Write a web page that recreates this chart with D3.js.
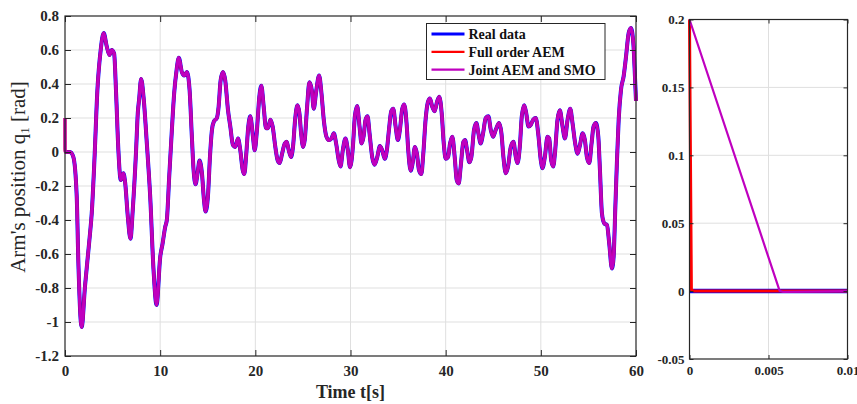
<!DOCTYPE html>
<html>
<head>
<meta charset="utf-8">
<script src="https://cdn.jsdelivr.net/npm/d3@7"></script>
<style>
  body { margin: 0; background: #fff; }
  text { font-family: "Liberation Serif", "Times New Roman", serif; }
</style>
</head>
<body>
<svg id="chart"></svg>
<script>
// time axis of the main plot (s)
var timeS = [0, 0.53, 0.88, 1.23, 1.4, 1.75, 2.1, 2.56, 2.81, 3.09, 3.4, 3.75, 4.07, 4.39, 4.67, 4.91, 5.16, 5.37, 5.61, 5.86,
  6.14, 6.32, 6.6, 6.88, 7.12, 7.47, 7.65, 7.79, 8.0, 8.25, 8.6, 8.95, 9.3, 9.62, 10.0, 10.25, 10.53, 10.7, 10.95, 11.23,
  11.47, 11.72, 11.96, 12.28, 12.53, 12.81, 13.09, 13.33, 13.51, 13.72, 13.93, 14.14, 14.39, 14.6, 14.77, 15.02, 15.23, 15.44, 15.65, 15.96,
  16.14, 16.35, 16.6, 16.84, 17.12, 17.37, 17.65, 17.89, 18.18, 18.42, 18.67, 18.84, 19.05, 19.26, 19.47, 19.75, 19.93, 20.17, 20.42, 20.63,
  20.88, 21.12, 21.33, 21.58, 21.82, 22.1, 22.35, 22.56, 22.81, 23.09, 23.3, 23.51, 23.75, 23.96, 24.18, 24.42, 24.63, 24.81, 25.02, 25.19,
  25.44, 25.68, 25.93, 26.14, 26.39, 26.7, 26.95, 27.19, 27.47, 27.72, 28.0, 28.25, 28.49, 28.77, 28.95, 29.19, 29.47, 29.72, 29.95, 30.25,
  30.46, 30.7, 30.95, 31.16, 31.37, 31.58, 31.79, 32.0, 32.28, 32.53, 32.81, 33.09, 33.33, 33.61, 33.82, 34.04, 34.28, 34.49, 34.74, 34.98,
  35.19, 35.44, 35.65, 35.89, 36.07, 36.32, 36.53, 36.77, 36.98, 37.19, 37.44, 37.65, 37.89, 38.14, 38.35, 38.6, 38.84, 39.09, 39.33, 39.58,
  39.8, 40.0, 40.25, 40.46, 40.7, 40.95, 41.16, 41.37, 41.58, 41.86, 42.04, 42.25, 42.49, 42.7, 42.98, 43.23, 43.44, 43.68, 43.93, 44.21,
  44.49, 44.74, 44.98, 45.26, 45.61, 45.86, 46.07, 46.32, 46.56, 46.84, 47.12, 47.37, 47.54, 47.79, 48.0, 48.25, 48.46, 48.7, 48.95, 49.19,
  49.47, 49.74, 50.0, 50.18, 50.42, 50.7, 50.88, 51.09, 51.3, 51.51, 51.75, 52.0, 52.28, 52.53, 52.81, 53.09, 53.33, 53.61, 53.86, 54.11,
  54.39, 54.63, 54.84, 55.09, 55.33, 55.54, 55.79, 56.04, 56.21, 56.42, 56.67, 56.95, 57.19, 57.47, 57.65, 57.82, 58.0, 58.18, 58.42, 58.7,
  58.95, 59.23, 59.47, 59.72, 59.89, 60];

// real arm position q1 (rad)
var realData = [0, 0, -0.03, -0.26, -0.64, -1.03, -0.79, -0.52, -0.36, -0.05, 0.36, 0.6, 0.70, 0.62, 0.57, 0.6, 0.58, 0.345, 0.01, -0.165,
  -0.125, -0.18, -0.38, -0.51, -0.34, 0.01, 0.23, 0.31, 0.43, 0.325, 0.05, -0.26, -0.69, -0.9, -0.62, -0.54, -0.44, -0.40, -0.145, 0.13,
  0.345, 0.48, 0.555, 0.47, 0.45, 0.47, 0.365, 0.09, -0.105, -0.19, -0.125, -0.05, -0.125, -0.28, -0.35, -0.26, -0.03, 0.13, 0.18, 0.2,
  0.265, 0.42, 0.47, 0.42, 0.25, 0.15, 0.04, 0.03, 0.08, 0.01, -0.105, -0.13, -0.01, 0.15, 0.21, 0.09, 0.01, 0.13, 0.325, 0.39,
  0.265, 0.14, 0.14, 0.19, 0.15, 0.03, -0.05, -0.065, -0.01, 0.05, 0.06, 0.01, -0.03, 0.03, 0.19, 0.275, 0.23, 0.11, 0.03, 0.07,
  0.265, 0.41, 0.365, 0.255, 0.355, 0.45, 0.345, 0.19, 0.09, 0.07, 0.08, 0.11, 0.05, -0.05, -0.085, 0.01, 0.08, 0.01, -0.09, 0.03,
  0.21, 0.27, 0.15, 0.05, 0.09, 0.19, 0.21, 0.11, -0.03, -0.075, -0.03, 0.035, 0.01, -0.04, 0.01, 0.13, 0.24, 0.255, 0.15, 0.07,
  0.13, 0.255, 0.28, 0.17, 0.01, -0.11, -0.065, 0.03, -0.01, -0.105, -0.13, -0.01, 0.19, 0.295, 0.315, 0.265, 0.24, 0.295, 0.325, 0.23,
  0.05, -0.04, -0.03, 0.05, 0.09, -0.03, -0.165, -0.185, -0.085, 0.06, 0.07, 0.01, -0.06, -0.03, 0.13, 0.17, 0.11, 0.05, 0.11, 0.2,
  0.21, 0.13, 0.09, 0.13, 0.17, 0.11, -0.03, -0.125, -0.085, 0.03, 0.06, -0.03, -0.065, 0.03, 0.21, 0.275, 0.23, 0.15, 0.16, 0.19,
  0.2, 0.1, -0.05, -0.095, -0.03, 0.09, 0.08, -0.05, -0.085, 0.01, 0.19, 0.245, 0.15, 0.08, 0.19, 0.255, 0.17, 0.05, -0.01, 0.04,
  0.11, 0.07, -0.03, -0.065, 0.05, 0.15, 0.17, 0.09, -0.105, -0.36, -0.42, -0.43, -0.54, -0.685, -0.615, -0.34, -0.05, 0.19, 0.365, 0.445,
  0.56, 0.70, 0.73, 0.64, 0.445, 0.3];

// both estimators start from q1 = 0.2 rad and reach the real value within a few ms
var estStart = 0.2;
var estSettleT = 0.006;

// zoom on the first 0.01 s
var insetRealT = [0, 0.01];
var insetRealV = [0, 0];
var insetAemT = [0, 0.00012, 0.0003, 0.01];
var insetAemV = [0.2, 0.001, 0, 0];
var insetJointT = [0, 0.0057, 0.0059, 0.01];
var insetJointV = [0.2, 0.0003, -0.0005, 0];

var legendNames = ["Real data", "Full order AEM", "Joint AEM and SMO"];
var lineColors = ["#0000ff", "#ff0000", "#bf00bf"];

var xTicks = [0, 10, 20, 30, 40, 50, 60];
var yTicks = [-1.2, -1, -0.8, -0.6, -0.4, -0.2, 0, 0.2, 0.4, 0.6, 0.8];
var insetXTicks = [0, 0.005, 0.01];
var insetYTicks = [-0.05, 0, 0.05, 0.1, 0.15, 0.2];

window.onload = function() {
  var w = 857;
  var h = 404;
  var axisColor = "#262626";
  var gridColor = "#dfdfdf";

  var svg = d3.select("#chart")
              .attr("width", w)
              .attr("height", h);

  function pairs(ts, vs) {
    return ts.map(function(t, i) { return [t, vs[i]]; });
  }

  var realPts = pairs(timeS, realData);
  var estPts = [[0, estStart], [estSettleT, realData[0]]].concat(realPts.slice(1));

  function drawPanel(p) {
    var g = svg.append("g");
    var x = d3.scaleLinear().domain(p.xDom).range([p.left, p.right]);
    var y = d3.scaleLinear().domain(p.yDom).range([p.bottom, p.top]);
    var fmt = function(d) { return String(+d.toFixed(4)); };

    // grid
    g.append("g").selectAll("line")
      .data(p.xTicks.filter(function(d) { return d != p.xDom[0] && d != p.xDom[1]; }))
      .enter().append("line")
      .attr("x1", function(d) { return x(d); })
      .attr("x2", function(d) { return x(d); })
      .attr("y1", p.top).attr("y2", p.bottom)
      .style("stroke", gridColor).style("stroke-width", 1);
    g.append("g").selectAll("line")
      .data(p.yTicks.filter(function(d) { return d != p.yDom[0] && d != p.yDom[1]; }))
      .enter().append("line")
      .attr("y1", function(d) { return y(d); })
      .attr("y2", function(d) { return y(d); })
      .attr("x1", p.left).attr("x2", p.right)
      .style("stroke", gridColor).style("stroke-width", 1);

    // lines
    var line = d3.line()
                 .x(function(d) { return x(d[0]); })
                 .y(function(d) { return y(d[1]); })
                 .curve(p.curve);
    p.series.forEach(function(s, i) {
      g.append("path")
        .attr("d", line(s.pts))
        .attr("fill", "none")
        .style("stroke", s.color)
        .style("stroke-width", s.width)
        .style("stroke-linejoin", "round");
    });

    // axes with inward ticks
    var bottom = g.append("g")
      .attr("transform", "translate(0," + p.bottom + ")")
      .call(d3.axisBottom(x).tickValues(p.xTicks).tickFormat(fmt).tickSize(-p.tick).tickPadding(p.xPad));
    var left = g.append("g")
      .attr("transform", "translate(" + p.left + ",0)")
      .call(d3.axisLeft(y).tickValues(p.yTicks).tickFormat(fmt).tickSize(-p.tick).tickPadding(p.yPad));
    var top = g.append("g")
      .attr("transform", "translate(0," + p.top + ")")
      .call(d3.axisTop(x).tickValues(p.xTicks).tickFormat("").tickSize(-p.tick));
    var right = g.append("g")
      .attr("transform", "translate(" + p.right + ",0)")
      .call(d3.axisRight(y).tickValues(p.yTicks).tickFormat("").tickSize(-p.tick));

    [bottom, left, top, right].forEach(function(a) {
      a.select(".domain").attr("d", null);
      a.selectAll("line").style("stroke", axisColor);
      a.selectAll("text")
        .style("font-family", "'Liberation Serif', serif")
        .style("font-weight", "bold")
        .style("font-size", p.font + "px")
        .style("fill", axisColor);
    });

    g.append("rect")
      .attr("x", p.left).attr("y", p.top)
      .attr("width", p.right - p.left)
      .attr("height", p.bottom - p.top)
      .attr("fill", "none")
      .style("stroke", axisColor)
      .style("stroke-width", 1.2);
    return g;
  }

  // main plot
  drawPanel({
    left: 65, right: 636, top: 16, bottom: 356,
    xDom: [0, 60], yDom: [-1.2, 0.8],
    xTicks: xTicks, yTicks: yTicks,
    tick: 6, xPad: 9, yPad: 6, font: 15,
    curve: d3.curveMonotoneX,
    series: [
      { pts: realPts, color: lineColors[0], width: 4 },
      { pts: estPts, color: lineColors[1], width: 3 },
      { pts: estPts, color: lineColors[2], width: 3.2 }
    ]
  });

  // inset on the first 10 ms
  drawPanel({
    left: 689.5, right: 847.5, top: 19.5, bottom: 359,
    xDom: [0, 0.01], yDom: [-0.05, 0.2],
    xTicks: insetXTicks, yTicks: insetYTicks,
    tick: 4, xPad: 7, yPad: 5, font: 13,
    curve: d3.curveLinear,
    series: [
      { pts: pairs(insetRealT, insetRealV), color: lineColors[0], width: 4.5 },
      { pts: pairs(insetAemT, insetAemV), color: lineColors[1], width: 3 },
      { pts: pairs(insetJointT, insetJointV), color: lineColors[2], width: 2.2 }
    ]
  });

  // axis titles
  svg.append("text")
     .attr("x", 350.5)
     .attr("y", 398)
     .style("text-anchor", "middle")
     .style("font-weight", "bold")
     .style("font-size", "18px")
     .style("fill", axisColor)
     .text("Time t[s]");

  var ylab = svg.append("text")
     .attr("transform", "translate(25,177) rotate(-90)")
     .style("text-anchor", "middle")
     .style("font-size", "21px")
     .style("fill", axisColor);
  ylab.append("tspan").text("Arm's position q");
  ylab.append("tspan").attr("dy", 4).style("font-size", "13px").text("1");
  ylab.append("tspan").attr("dy", -4).text(" [rad]");

  // legend
  var legend = svg.append("g").attr("class", "legend");
  legend.append("rect")
        .attr("x", 426.5).attr("y", 23.5)
        .attr("width", 178.5).attr("height", 56)
        .attr("fill", "white")
        .style("stroke", axisColor)
        .style("stroke-width", 1);
  legendNames.forEach(function(name, i) {
    var ly = 34 + i * 17.8;
    legend.append("line")
          .attr("x1", 431.5).attr("x2", 464.5)
          .attr("y1", ly).attr("y2", ly)
          .style("stroke", lineColors[i])
          .style("stroke-width", i == 0 ? 3 : 2.2);
    legend.append("text")
          .attr("x", 468.5).attr("y", ly + 5)
          .style("font-weight", "bold")
          .style("font-size", "14px")
          .style("fill", "#111")
          .text(name);
  });
};
</script>
</body>
</html>
